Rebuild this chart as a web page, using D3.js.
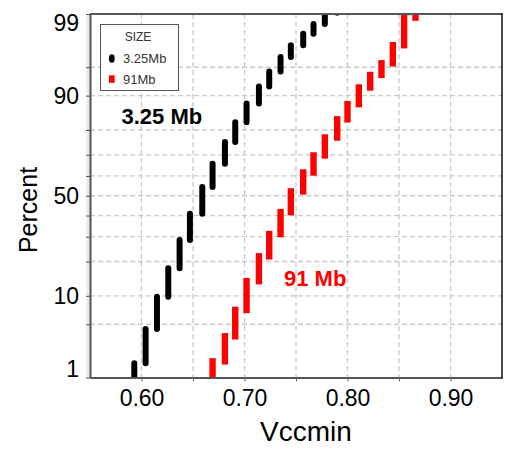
<!DOCTYPE html>
<html>
<head>
<meta charset="utf-8">
<script src="https://cdn.jsdelivr.net/npm/d3@7"></script>
<style>
  html, body { margin: 0; padding: 0; background: #fff; }
  svg { display: block; font-family: "Liberation Sans", Arial, sans-serif; }
</style>
</head>
<body>
<svg id="chart" width="509" height="449"></svg>
<script>
// Vccmin step values (V) and cumulative percent at the top of each step
const vcc325 = [0.593, 0.604, 0.615, 0.626, 0.637, 0.647, 0.659, 0.669, 0.681, 0.691,
                0.702, 0.714, 0.724, 0.735, 0.745, 0.757, 0.767, 0.778, 0.790];
const cum325 = [1.6, 4.4, 9.8, 17.7, 28.6, 40.9, 54.5, 65.9, 75.4, 82.7,
                88.1, 91.9, 94.4, 96.2, 97.3, 98.1, 98.6, 99.04, 99.8];
const start325 = 0.3;

const vcc91 = [0.669, 0.681, 0.691, 0.702, 0.714, 0.724, 0.735, 0.745, 0.757, 0.767,
               0.778, 0.790, 0.800, 0.811, 0.822, 0.833, 0.844, 0.855, 0.866];
const cum91 = [1.7, 3.6, 7.2, 13.7, 21.9, 31.2, 41.7, 52.2, 61.7, 69.7,
               77.2, 83.6, 87.95, 91.7, 93.9, 95.5, 97.3, 98.87, 99.8];
const start91 = 0.3;

const seriesNames = ["3.25Mb", "91Mb"];
const annotations = ["3.25 Mb", "91 Mb"];

const xTicks = [0.60, 0.65, 0.70, 0.75, 0.80, 0.85, 0.90];
const xLabels = ["0.60", "0.70", "0.80", "0.90"];
const yTicks = [1, 5, 10, 20, 30, 40, 50, 60, 70, 80, 90, 95, 99];
const yLabels = [1, 10, 50, 90, 99];
const yGrid = [5, 10, 20, 30, 40, 50, 60, 70, 80, 90, 95];

// Inverse standard normal CDF (Acklam's rational approximation)
function probit(p) {
  const a = [-3.969683028665376e+01, 2.209460984245205e+02, -2.759285104469687e+02,
             1.383577518672690e+02, -3.066479806614716e+01, 2.506628277459239e+00];
  const b = [-5.447609879822406e+01, 1.615858368580409e+02, -1.556989798598866e+02,
             6.680131188771972e+01, -1.328068155288572e+01];
  const c = [-7.784894002430293e-03, -3.223964580411365e-01, -2.400758277161838e+00,
             -2.549732539343734e+00, 4.374664141464968e+00, 2.938163982698783e+00];
  const d = [7.784695709041462e-03, 3.224671290700398e-01, 2.445134137142996e+00,
             3.754408661907416e+00];
  const pl = 0.02425, ph = 1 - pl;
  let q, r;
  if (p < pl) {
    q = Math.sqrt(-2 * Math.log(p));
    return (((((c[0]*q+c[1])*q+c[2])*q+c[3])*q+c[4])*q+c[5]) / ((((d[0]*q+d[1])*q+d[2])*q+d[3])*q+1);
  }
  if (p <= ph) {
    q = p - 0.5; r = q * q;
    return (((((a[0]*r+a[1])*r+a[2])*r+a[3])*r+a[4])*r+a[5])*q / (((((b[0]*r+b[1])*r+b[2])*r+b[3])*r+b[4])*r+1);
  }
  q = Math.sqrt(-2 * Math.log(1 - p));
  return -(((((c[0]*q+c[1])*q+c[2])*q+c[3])*q+c[4])*q+c[5]) / ((((d[0]*q+d[1])*q+d[2])*q+d[3])*q+1);
}

const L = 90, R = 502, T = 14, B = 377.5;
const svg = d3.select("#chart");

const x = d3.scaleLinear().domain([0.55, 0.95]).range([L, R]);
const yZ = d3.scaleLinear().domain([probit(0.01), probit(0.99)]).range([B, T]);
const y = pct => yZ(probit(pct / 100));

// light band left of the vertical axis
svg.append("rect").attr("x", L - 3.5).attr("y", T).attr("width", 3.5).attr("height", B - T + 1)
  .attr("fill", "#efe9de");

// grid
const grid = svg.append("g").attr("stroke", "#c9c9c9").attr("stroke-width", 1.3)
  .attr("stroke-dasharray", "5,3");
grid.selectAll(".gx").data(xTicks).join("line")
  .attr("x1", d => x(d)).attr("x2", d => x(d)).attr("y1", T).attr("y2", B);
grid.selectAll(".gy").data(yGrid).join("line")
  .attr("x1", L).attr("x2", R).attr("y1", d => y(d)).attr("y2", d => y(d));

// clip to plot area
svg.append("clipPath").attr("id", "plotclip").append("rect")
  .attr("x", L).attr("y", T).attr("width", R - L).attr("height", B - T + 0.5);

const plot = svg.append("g").attr("clip-path", "url(#plotclip)");

function steps(vals, cums, start) {
  return vals.map((v, i) => ({ v, lo: i === 0 ? start : cums[i - 1], hi: cums[i] }));
}

plot.append("g").selectAll("line").data(steps(vcc325, cum325, start325)).join("line")
  .attr("x1", d => x(d.v)).attr("x2", d => x(d.v))
  .attr("y1", d => y(d.lo)).attr("y2", d => y(d.hi))
  .attr("stroke", "#000").attr("stroke-width", 6).attr("stroke-linecap", "round");

plot.append("g").selectAll("line").data(steps(vcc91, cum91, start91)).join("line")
  .attr("x1", d => x(d.v)).attr("x2", d => x(d.v))
  .attr("y1", d => y(d.lo)).attr("y2", d => y(d.hi))
  .attr("stroke", "#ff0000").attr("stroke-width", 6.4).attr("stroke-linecap", "square");

// axes
const xAxis = d3.axisBottom(x).tickValues(xTicks).tickSize(4).tickSizeOuter(0)
  .tickFormat(d => xLabels.includes(d.toFixed(2)) ? d.toFixed(2) : "");
const gx = svg.append("g").attr("transform", `translate(0,${B})`).call(xAxis);
gx.select(".domain").attr("stroke", "#555").attr("stroke-width", 2);
gx.selectAll(".tick line").attr("stroke", "#666");
gx.selectAll(".tick text").attr("font-size", 23).attr("fill", "#000")
  .attr("font-family", "'Liberation Sans', Arial, sans-serif").attr("dy", "0.95em");

const yAxis = d3.axisLeft(yZ).tickValues(yTicks.map(p => probit(p / 100))).tickSize(4).tickSizeOuter(0)
  .tickFormat((d, i) => yLabels.includes(yTicks[i]) ? String(yTicks[i]) : "");
const gy = svg.append("g").attr("transform", `translate(${L},0)`).call(yAxis);
gy.select(".domain").attr("stroke", "#555").attr("stroke-width", 2);
gy.selectAll(".tick line").attr("stroke", "#555");
gy.selectAll(".tick text").attr("font-size", 23).attr("fill", "#000")
  .attr("font-family", "'Liberation Sans', Arial, sans-serif").attr("x", -11)
  .attr("dy", (d, i) => yTicks[i] === 99 ? "0.72em" : yTicks[i] === 1 ? "-0.05em" : "0.32em");

// frame top and right
svg.append("line").attr("x1", L).attr("x2", R).attr("y1", T).attr("y2", T)
  .attr("stroke", "#555").attr("stroke-width", 2);
svg.append("line").attr("x1", R).attr("x2", R).attr("y1", T - 1).attr("y2", B + 1)
  .attr("stroke", "#111").attr("stroke-width", 1.5);

// axis titles
svg.append("text").attr("x", (L + R) / 2 + 10).attr("y", 441).attr("text-anchor", "middle")
  .attr("font-size", 28).text("Vccmin");
svg.append("text").attr("transform", "translate(37,210) rotate(-90)").attr("text-anchor", "middle")
  .attr("font-size", 25).text("Percent");

// legend
const lg = svg.append("g");
lg.append("rect").attr("x", 100.5).attr("y", 24.5).attr("width", 78).attr("height", 66)
  .attr("fill", "#fff").attr("stroke", "#555").attr("stroke-width", 1);
lg.append("text").attr("x", 138).attr("y", 41).attr("text-anchor", "middle")
  .attr("font-size", 12).attr("fill", "#333").text("SIZE");
lg.append("ellipse").attr("cx", 111.8).attr("cy", 58.5).attr("rx", 2.9).attr("ry", 4.2).attr("fill", "#000");
lg.append("rect").attr("x", 109).attr("y", 75.3).attr("width", 5.7).attr("height", 7.5).attr("fill", "#ff0000");
lg.selectAll(".lt").data(seriesNames).join("text")
  .attr("x", 123).attr("y", (d, i) => 63 + i * 21)
  .attr("font-size", 13).attr("fill", "#333").text(d => d);

// series annotations
svg.append("text").attr("x", 121.5).attr("y", 124).attr("font-size", 22).attr("font-weight", "bold")
  .attr("fill", "#000").text(annotations[0]);
svg.append("text").attr("x", 284).attr("y", 286).attr("font-size", 22).attr("font-weight", "bold")
  .attr("fill", "#ff0000").text(annotations[1]);
</script>
</body>
</html>
